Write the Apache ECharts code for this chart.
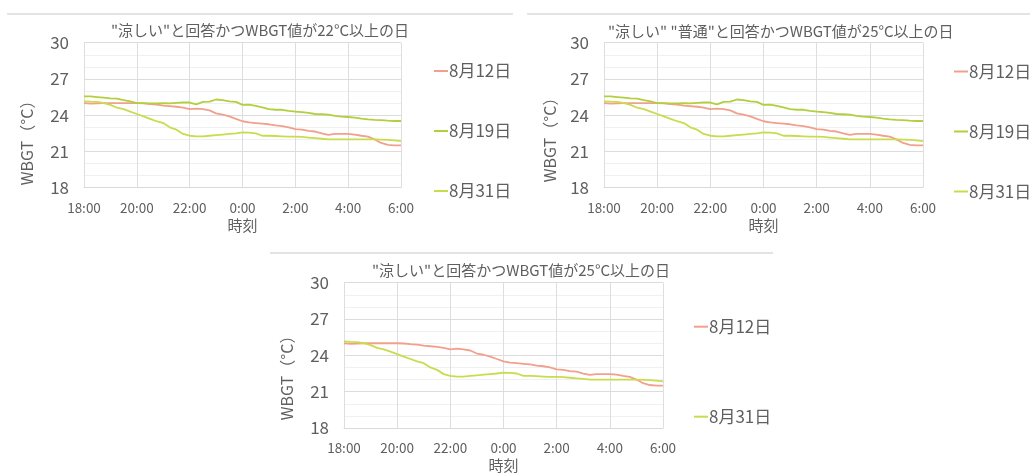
<!DOCTYPE html>
<html><head><meta charset="utf-8">
<script src="https://cdn.jsdelivr.net/npm/echarts@6/dist/echarts.min.js"></script>
<style>html,body{margin:0;padding:0;background:#fff}#c{width:1030px;height:474px}</style>
</head><body><div id="c"></div>
<script>
const times = ['18:00','18:15','18:30','18:45','19:00','19:15','19:30','19:45','20:00','20:15','20:30','20:45',
 '21:00','21:15','21:30','21:45','22:00','22:15','22:30','22:45','23:00','23:15','23:30','23:45',
 '0:00','0:15','0:30','0:45','1:00','1:15','1:30','1:45','2:00','2:15','2:30','2:45',
 '3:00','3:15','3:30','3:45','4:00','4:15','4:30','4:45','5:00','5:15','5:30','5:45','6:00'];
const aug12 = [25.0,24.95,24.98,25.0,25.0,25.0,25.0,25.0,25.0,24.98,24.92,24.88,
 24.8,24.75,24.7,24.62,24.5,24.55,24.5,24.4,24.15,24.05,23.9,23.7,
 23.5,23.4,23.35,23.3,23.25,23.15,23.1,23.0,22.85,22.8,22.7,22.65,
 22.5,22.38,22.45,22.45,22.45,22.4,22.3,22.22,22.0,21.7,21.55,21.5,21.5];
const aug19 = [25.55,25.55,25.5,25.45,25.4,25.38,25.25,25.15,25.0,25.0,24.98,24.98,
 25.0,24.98,25.02,25.05,25.05,24.9,25.1,25.12,25.3,25.25,25.15,25.1,
 24.85,24.88,24.78,24.65,24.5,24.45,24.45,24.35,24.3,24.25,24.2,24.1,
 24.08,24.05,23.95,23.88,23.85,23.8,23.72,23.65,23.62,23.6,23.55,23.52,23.52];
const aug31 = [25.15,25.12,25.1,25.0,24.85,24.62,24.5,24.3,24.1,23.9,23.7,23.5,
 23.35,23.0,22.8,22.45,22.3,22.25,22.25,22.3,22.35,22.4,22.45,22.5,
 22.58,22.55,22.5,22.3,22.3,22.28,22.25,22.22,22.22,22.2,22.15,22.1,
 22.05,22.0,22.0,22.0,22.0,22.0,22.0,22.0,22.0,21.98,21.95,21.92,21.85];
const titles = ['"涼しい"と回答かつWBGT値が22°C以上の日','"涼しい" "普通"と回答かつWBGT値が25°C以上の日','"涼しい"と回答かつWBGT値が25°C以上の日'];
const seriesNames = ['8月12日','8月19日','8月31日'];
const yName = 'WBGT（°C）';
const xName = '時刻';

const FONT = '"Noto Sans CJK JP", "Noto Sans", sans-serif';
const TXT = '#5f5f5f';
const colors = {'8月12日':'#F2A08C','8月19日':'#B2CF3E','8月31日':'#C9DC4E'};
const dataMap = {'8月12日':aug12,'8月19日':aug19,'8月31日':aug31};

const panels = [
  {grid:{left:84,top:42.7,width:317,height:145}, title:{left:111,top:23}, legend:{left:434,top:62.5,itemGap:43}, names:seriesNames, yNameX:27, yNameY:139},
  {grid:{left:604,top:42.7,width:319,height:145}, title:{left:608,top:24}, legend:{left:954,top:63,itemGap:43}, names:seriesNames, yNameX:550, yNameY:136},
  {grid:{left:344,top:282.7,width:319,height:145.6}, title:{left:372,top:263}, legend:{left:694,top:318.2,itemGap:73}, names:['8月12日','8月31日'], yNameX:287, yNameY:374}
];

const option = {animation:false, textStyle:{fontFamily:FONT}, title:[], legend:[], grid:[], xAxis:[], yAxis:[], series:[], graphic:[]};
panels.forEach((p,i)=>{
  option.grid.push(Object.assign({containLabel:false}, p.grid));
  option.title.push({text:titles[i], left:p.title.left, top:p.title.top, padding:0,
    textStyle:{fontFamily:FONT,fontSize:15,fontWeight:'normal',color:TXT}});
  option.legend.push({orient:'vertical', left:p.legend.left, top:p.legend.top, itemGap:p.legend.itemGap,
    padding:0, icon:'rect', itemWidth:14, itemHeight:2, data:p.names,
    textStyle:{fontFamily:FONT,fontSize:17,lineHeight:17,color:TXT,padding:[0,0,0,-4]}});
  option.xAxis.push({type:'category', gridIndex:i, data:times, boundaryGap:false,
    name:xName, nameLocation:'middle', nameGap:30,
    nameTextStyle:{fontFamily:FONT,fontSize:15,color:TXT},
    axisLine:{lineStyle:{color:'#d9d9d9'}}, axisTick:{show:false, interval:7},
    axisLabel:{interval:7, margin:13, fontFamily:FONT, fontSize:13.5, color:TXT},
    splitLine:{show:true, interval:7, lineStyle:{color:'#dedede'}}});
  option.yAxis.push({type:'value', gridIndex:i, min:18, max:30, interval:3,
    axisLine:{show:false}, axisTick:{show:false},
    axisLabel:{margin:15, fontFamily:FONT, fontSize:17, color:TXT},
    splitLine:{lineStyle:{color:'#dcdcdc'}},
    minorTick:{show:false, splitNumber:3}, minorSplitLine:{show:true, lineStyle:{color:'#f0f0f0'}}});
  p.names.forEach(n=>{
    option.series.push({type:'line', name:n, xAxisIndex:i, yAxisIndex:i, data:dataMap[n],
      showSymbol:false, symbol:'none', color:colors[n], lineStyle:{width:1.8, color:colors[n]}});
  });
  option.graphic.push({type:'text', x:p.yNameX, y:p.yNameY, rotation:Math.PI/2,
    style:{text:yName, fill:TXT, font:'16px '+FONT, align:'center', verticalAlign:'middle'}});
});
option.graphic.push(
  {type:'line', shape:{x1:7,y1:14,x2:513,y2:14}, style:{stroke:'#dadada',lineWidth:1.5}},
  {type:'line', shape:{x1:527,y1:14,x2:1030,y2:14}, style:{stroke:'#dadada',lineWidth:1.5}},
  {type:'line', shape:{x1:270,y1:253,x2:773,y2:253}, style:{stroke:'#dadada',lineWidth:1.5}}
);
const chart = echarts.init(document.getElementById('c'), null, {renderer:'canvas'});
chart.setOption(option);
</script></body></html>
